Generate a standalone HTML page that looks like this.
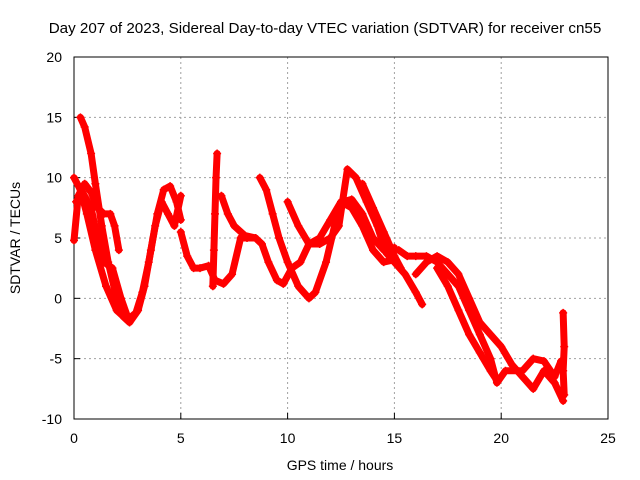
<!DOCTYPE html>
<html><head><meta charset="utf-8"><style>
body{margin:0;background:#fff}
svg{display:block;font-family:"Liberation Sans",sans-serif;font-size:14px}
</style></head><body>
<svg id="chart" width="640" height="480" viewBox="0 0 640 480"></svg>
<script>
const xTicks=[0,5,10,15,20,25];
const yTicks=[-10,-5,0,5,10,15,20];
const trackA=[[0.3,15],[0.5,14.2],[0.8,12],[1.0,9.5],[1.3,6],[1.6,3],[2.0,0],[2.3,-1.5],[2.6,-2],[3.0,-1],[3.3,1],[3.6,4],[3.9,7],[4.2,9],[4.5,9.3],[4.8,8],[5.0,6.5]];
const trackB=[[0,10],[0.3,9],[0.6,7],[1.0,4],[1.5,1],[2.0,-1],[2.5,-1.8],[2.9,-1.2],[3.2,0.5],[3.5,3],[3.8,6],[4.1,8],[4.4,7],[4.7,6],[5.0,8.5]];
const trackC=[[0,4.8],[0.2,8.5],[0.5,9.5],[0.8,8.8],[1.1,7.5],[1.4,7],[1.7,7],[1.9,6],[2.1,4]];
const trackD=[[0.1,8],[0.4,8.8],[0.8,7.5],[1.1,5],[1.4,3],[1.8,2.5],[2.2,0],[2.5,-1.5]];
const trackE=[[5.0,5.5],[5.3,3.5],[5.6,2.5],[5.9,2.5],[6.3,2.7],[6.6,1.5],[7.0,1.2],[7.4,2],[7.8,5],[8.1,5],[8.5,5]];
const trackF=[[6.9,8.5],[7.2,7],[7.5,6],[8.0,5.2],[8.5,5],[8.8,4.5],[9.1,3],[9.5,1.5],[9.8,1.2],[10.2,2.5],[10.6,3],[11,4.5],[11.5,5],[12,6.5],[12.5,8],[13,7.5],[13.5,6],[14,4],[14.5,3],[15,3.2]];
const trackG=[[8.7,10],[9.0,9],[9.3,7],[9.6,5],[10,3],[10.5,1],[11,0],[11.3,0.5],[11.8,3],[12.2,6],[12.6,8],[13,8.2],[13.5,7],[14,5],[14.5,4],[15,4.2]];
const trackH=[[10,8],[10.5,6],[11,4.5],[11.5,4.5],[12,5],[12.4,6],[12.8,10.7],[13.2,10],[13.7,8],[14.2,6],[14.6,3.8],[15,3],[15.5,2],[16,0.5],[16.3,-0.5]];
const trackI=[[13.5,9.5],[14,7.5],[14.5,5.5],[15,3.5],[15.3,2.5]];
const trackJ=[[15.2,4],[15.6,3.5],[16,3.5],[16.5,3.5],[17,3],[17.5,2],[18,1],[18.5,-1],[19,-3],[19.5,-5],[19.8,-7],[20.2,-6],[21,-6],[21.5,-5],[22,-5.2],[22.5,-6.5],[22.8,-5.2]];
const trackK=[[16,2],[16.5,3],[17,3.5],[17.5,3],[18,2],[18.5,0],[19,-2],[19.5,-3],[20,-4],[20.5,-5.5],[21,-6.5],[21.5,-7.5],[22,-6],[22.5,-7],[22.9,-8.5]];
const trackL=[[17,2.5],[17.5,1],[18,-1],[18.5,-3],[19,-4.5],[19.5,-6],[19.8,-6.8]];
const trackM=[[6.5,1],[6.55,4],[6.6,7],[6.65,10],[6.7,12]];
const trackN=[[22.9,-1.2],[22.95,-4],[22.9,-6],[22.95,-8]];
const tracks=[trackA,trackB,trackC,trackD,trackE,trackF,trackG,trackH,trackI,trackJ,trackK,trackL,trackM,trackN];

const svg=document.getElementById('chart');
const NS='http://www.w3.org/2000/svg';
const L=74,R=608,T=57,B=419;
const xs=v=>L+(v-0)/25*(R-L);
const ys=v=>B-(v+10)/30*(B-T);
function el(tag,attrs,parent){const e=document.createElementNS(NS,tag);for(const k in attrs)e.setAttribute(k,attrs[k]);(parent||svg).appendChild(e);return e;}

const title=el('text',{x:325,y:33,'text-anchor':'middle','font-size':'15.2'});
title.textContent='Day 207 of 2023, Sidereal Day-to-day VTEC variation (SDTVAR) for receiver cn55';



xTicks.forEach(t=>{
  const g=el('line',{x1:xs(t),x2:xs(t),y1:T,y2:B,stroke:'#a0a0a0','stroke-dasharray':'2,3'});
  
  
  el('line',{x1:xs(t),x2:xs(t),y1:B,y2:B-6,stroke:'#000'});
  const lb=el('text',{x:xs(t),y:B+24,'text-anchor':'middle'});
  lb.textContent=t;
  
  
});
yTicks.forEach(t=>{
  const g=el('line',{x1:L,x2:R,y1:ys(t),y2:ys(t),stroke:'#a0a0a0','stroke-dasharray':'2,3'});
  
  
  el('line',{x1:L,x2:L+6,y1:ys(t),y2:ys(t),stroke:'#000'});
  const lb=el('text',{x:L-12,y:ys(t)+5,'text-anchor':'end'});
  lb.textContent=t;
  
  
});
const frame=el('rect',{x:L,y:T,width:R-L,height:B-T,fill:'none',stroke:'#000'});



const xt=el('text',{x:340,y:470,'text-anchor':'middle'});
xt.textContent='GPS time / hours';


const yt=el('text',{x:0,y:0,'text-anchor':'middle',transform:'translate(20,238) rotate(-90)'});
yt.textContent='SDTVAR / TECUs';



tracks.forEach((tr,i)=>{
  const p=el('polyline',{points:tr.map(d=>xs(d[0])+','+ys(d[1])).join(' '),fill:'none',stroke:'#ff0000','stroke-width':7,'stroke-linejoin':'round','stroke-linecap':'round'});
  
  
  tr.forEach(d=>{
    const x=xs(d[0]),y=ys(d[1]);
    const m=el('path',{d:`M${x-4},${y}H${x+4}M${x},${y-4}V${y+4}`,stroke:'#ff0000','stroke-width':1.5});
    
    
  });
});
</script>
</body></html>
